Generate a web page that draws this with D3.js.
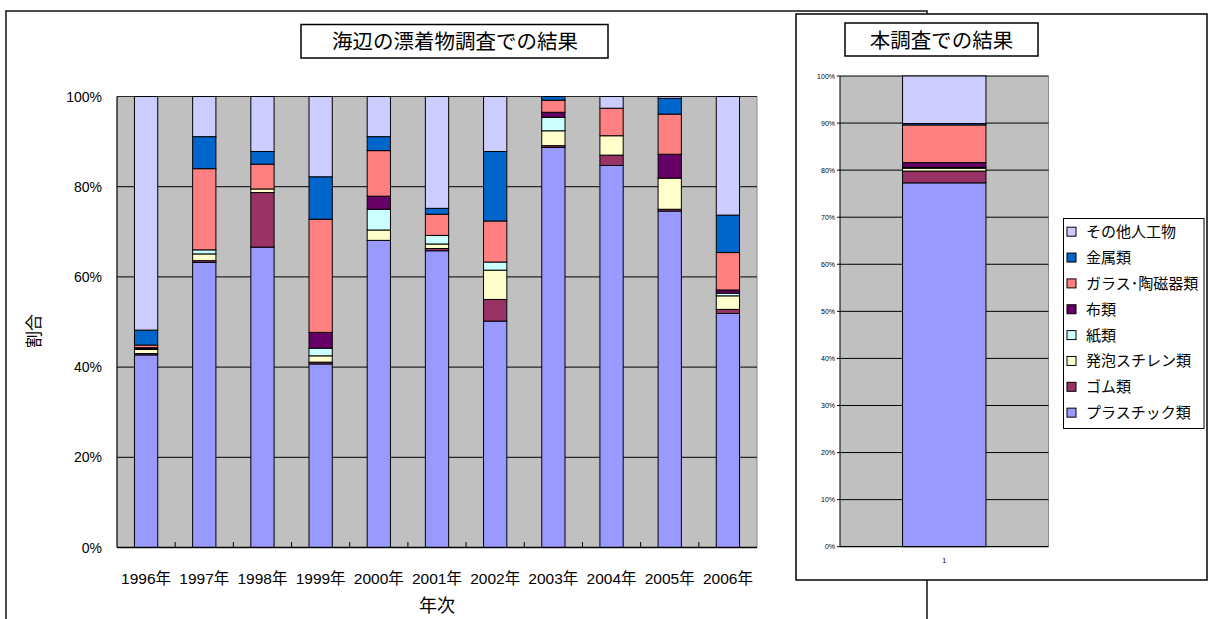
<!DOCTYPE html>
<html>
<head>
<meta charset="utf-8">
<script src="https://cdn.jsdelivr.net/npm/d3@7"></script>
<style>
  html, body { margin: 0; padding: 0; background: #fff; }
  svg { display: block; }
  text { font-family: "Liberation Sans", Arial, "Noto Sans CJK JP", sans-serif; fill: #000; }
</style>
</head>
<body>
<svg id="chart" width="1214" height="619"></svg>
<script>
// Years surveyed on the beach
const years = ["1996年", "1997年", "1998年", "1999年", "2000年", "2001年", "2002年", "2003年", "2004年", "2005年", "2006年"];

// Categories of debris, stacked from the bottom up
const seriesNames = ["プラスチック類", "ゴム類", "発泡スチレン類", "紙類", "布類", "ガラス･陶磁器類", "金属類", "その他人工物"];
const seriesColors = ["#9999FF", "#993366", "#FFFFCC", "#CCFFFF", "#660066", "#FF8080", "#0066CC", "#CCCCFF"];

// Share (%) of each category per year
const plastic = [42.7, 63.2, 66.6, 40.7, 68.1, 65.8, 50.2, 88.7, 84.7, 74.6, 51.9];
const rubber  = [0.3, 0.4, 12.1, 0.4, 0.0, 0.5, 4.8, 0.4, 2.3, 0.4, 0.9];
const styrene = [0.9, 1.5, 0.8, 1.4, 2.3, 1.0, 6.5, 3.3, 4.3, 6.9, 3.0];
const paper   = [0.2, 0.9, 0.0, 1.7, 4.6, 1.9, 1.8, 3.0, 0.0, 0.0, 0.6];
const cloth   = [0.2, 0.0, 0.0, 3.5, 2.9, 0.0, 0.0, 1.1, 0.0, 5.3, 0.7];
const glass   = [0.6, 18.0, 5.5, 25.1, 10.1, 4.7, 9.1, 2.7, 6.1, 8.9, 8.3];
const metal   = [3.3, 7.1, 2.8, 9.4, 3.1, 1.3, 15.4, 0.8, 0.0, 3.5, 8.3];
const other   = [51.8, 8.9, 12.2, 17.8, 8.9, 24.8, 12.2, 0.0, 2.6, 0.4, 26.3];

// This survey (single bar), same category order
const surveyLabel = ["1"];
const surveyValues = [77.3, 2.5, 0.6, 0.2, 1.0, 8.0, 0.3, 10.1];

// Axis tick labels
const leftTicks = [0, 20, 40, 60, 80, 100];
const rightTicks = [0, 10, 20, 30, 40, 50, 60, 70, 80, 90, 100];

const svg = d3.select("#chart");
const seriesArrays = [plastic, rubber, styrene, paper, cloth, glass, metal, other];

// Outer frames
svg.append("rect").attr("x", 6).attr("y", 11).attr("width", 921).attr("height", 660)
  .attr("fill", "#fff").attr("stroke", "#111").attr("stroke-width", 1.5);

// ---------- Left chart ----------
const L = { left: 117, right: 757, top: 96.5, bottom: 547.5 };
const leftRows = years.map((y, i) => {
  const row = { year: y };
  seriesNames.forEach((s, k) => row[s] = seriesArrays[k][i]);
  return row;
});
const xL = d3.scaleBand().domain(years).range([L.left, L.right]).paddingInner(0.6).paddingOuter(0.3);
const yL = d3.scaleLinear().domain([0, 100]).range([L.bottom, L.top]);
const stackL = d3.stack().keys(seriesNames)(leftRows);

const gL = svg.append("g");
gL.append("rect").attr("x", L.left).attr("y", L.top).attr("width", L.right - L.left).attr("height", L.bottom - L.top)
  .attr("fill", "#C0C0C0");
gL.append("line").attr("x1", L.right).attr("x2", L.right).attr("y1", L.top).attr("y2", L.bottom)
  .attr("stroke", "#8a8a8a").attr("stroke-width", 1);
gL.selectAll("line.grid").data(leftTicks.filter(t => t > 0)).join("line")
  .attr("class", "grid").attr("x1", L.left).attr("x2", L.right)
  .attr("y1", d => yL(d)).attr("y2", d => yL(d))
  .attr("stroke", "#262626").attr("stroke-width", 1.2);

stackL.forEach((layer, k) => {
  gL.append("g").selectAll("rect").data(layer.filter(d => d[1] - d[0] > 0)).join("rect")
    .attr("x", d => xL(d.data.year))
    .attr("width", xL.bandwidth())
    .attr("y", d => yL(d[1]))
    .attr("height", d => yL(d[0]) - yL(d[1]))
    .attr("fill", seriesColors[k])
    .attr("stroke", "#000").attr("stroke-width", 1);
});

// Axes
gL.append("line").attr("x1", L.left).attr("x2", L.left).attr("y1", L.top).attr("y2", L.bottom)
  .attr("stroke", "#000").attr("stroke-width", 1.2);
gL.append("line").attr("x1", L.left).attr("x2", L.right).attr("y1", L.bottom).attr("y2", L.bottom)
  .attr("stroke", "#000").attr("stroke-width", 1.5);
const stepL = xL.step();
gL.selectAll("line.xtick").data(d3.range(1, years.length)).join("line")
  .attr("class", "xtick")
  .attr("x1", i => L.left + i * stepL).attr("x2", i => L.left + i * stepL)
  .attr("y1", L.bottom).attr("y2", L.bottom - 5.5)
  .attr("stroke", "#000").attr("stroke-width", 1);
gL.selectAll("text.ytick").data(leftTicks).join("text")
  .attr("class", "ytick")
  .attr("x", 102).attr("y", d => yL(d)).attr("dy", "0.36em")
  .attr("text-anchor", "end").style("font-size", "14px")
  .text(d => d + "%");
gL.selectAll("text.xlab").data(years).join("text")
  .attr("class", "xlab")
  .attr("x", d => xL(d) + xL.bandwidth() / 2).attr("y", 584)
  .attr("text-anchor", "middle").style("font-size", "15.5px")
  .text(d => d);
gL.append("text").attr("x", 437).attr("y", 612).attr("text-anchor", "middle")
  .style("font-size", "18px").text("年次");
gL.append("text").attr("transform", "translate(40,331) rotate(-90)").attr("text-anchor", "middle")
  .style("font-size", "17px").text("割合");

// Title
gL.append("rect").attr("x", 301).attr("y", 24.5).attr("width", 307).attr("height", 33.5)
  .attr("fill", "#fff").attr("stroke", "#000").attr("stroke-width", 1.5);
gL.append("text").attr("x", 455).attr("y", 49).attr("text-anchor", "middle")
  .style("font-size", "20.5px").text("海辺の漂着物調査での結果");

// ---------- Right chart ----------
svg.append("rect").attr("x", 796).attr("y", 14).attr("width", 411).attr("height", 566)
  .attr("fill", "#fff").attr("stroke", "#111").attr("stroke-width", 1.6);

const R = { left: 840, right: 1048.5, top: 76, bottom: 546.7 };
const rightRow = { label: surveyLabel[0] };
seriesNames.forEach((s, k) => rightRow[s] = surveyValues[k]);
const xR = d3.scaleBand().domain(surveyLabel).range([R.left, R.right]).paddingInner(0.6).paddingOuter(0.3);
const yR = d3.scaleLinear().domain([0, 100]).range([R.bottom, R.top]);
const stackR = d3.stack().keys(seriesNames)([rightRow]);

const gR = svg.append("g");
gR.append("rect").attr("x", R.left).attr("y", R.top).attr("width", R.right - R.left).attr("height", R.bottom - R.top)
  .attr("fill", "#C0C0C0");
gR.append("line").attr("x1", R.right).attr("x2", R.right).attr("y1", R.top).attr("y2", R.bottom)
  .attr("stroke", "#8a8a8a").attr("stroke-width", 1);
gR.selectAll("line.grid").data(rightTicks.filter(t => t > 0)).join("line")
  .attr("class", "grid").attr("x1", R.left).attr("x2", R.right)
  .attr("y1", d => yR(d)).attr("y2", d => yR(d))
  .attr("stroke", "#000").attr("stroke-width", 1);
stackR.forEach((layer, k) => {
  gR.append("g").selectAll("rect").data(layer.filter(d => d[1] - d[0] > 0)).join("rect")
    .attr("x", d => xR(d.data.label))
    .attr("width", xR.bandwidth())
    .attr("y", d => yR(d[1]))
    .attr("height", d => yR(d[0]) - yR(d[1]))
    .attr("fill", seriesColors[k])
    .attr("stroke", "#000").attr("stroke-width", 1);
});
gR.append("line").attr("x1", R.left).attr("x2", R.left).attr("y1", R.top).attr("y2", R.bottom)
  .attr("stroke", "#000").attr("stroke-width", 1);
gR.append("line").attr("x1", R.left).attr("x2", R.right).attr("y1", R.bottom).attr("y2", R.bottom)
  .attr("stroke", "#000").attr("stroke-width", 1.2);
gR.selectAll("line.ytick").data(rightTicks).join("line")
  .attr("class", "ytick").attr("x1", R.left - 3).attr("x2", R.left)
  .attr("y1", d => yR(d)).attr("y2", d => yR(d))
  .attr("stroke", "#000").attr("stroke-width", 1);
gR.selectAll("text.ytick").data(rightTicks).join("text")
  .attr("class", "ytick")
  .attr("x", 835).attr("y", d => yR(d)).attr("dy", "0.36em")
  .attr("text-anchor", "end").style("font-size", "7px")
  .text(d => d + "%");
gR.append("text").attr("x", xR(surveyLabel[0]) + xR.bandwidth() / 2).attr("y", 563)
  .attr("text-anchor", "middle").style("font-size", "7px").text(surveyLabel[0]);

// Title
gR.append("rect").attr("x", 845).attr("y", 23).attr("width", 193).attr("height", 33)
  .attr("fill", "#fff").attr("stroke", "#000").attr("stroke-width", 1.5);
gR.append("text").attr("x", 941.5).attr("y", 47.5).attr("text-anchor", "middle")
  .style("font-size", "20.5px").text("本調査での結果");

// Legend (top item is the top of the stack)
const legend = gR.append("g");
legend.append("rect").attr("x", 1063.5).attr("y", 218.5).attr("width", 140.5).attr("height", 210)
  .attr("fill", "#fff").attr("stroke", "#000").attr("stroke-width", 1);
const legendItems = seriesNames.map((s, k) => ({ name: s, color: seriesColors[k] })).reverse();
const li = legend.selectAll("g.item").data(legendItems).join("g")
  .attr("class", "item")
  .attr("transform", (d, i) => `translate(0,${231.7 + i * 25.85})`);
li.append("rect").attr("x", 1067).attr("y", -4.5).attr("width", 9).attr("height", 9)
  .attr("fill", d => d.color).attr("stroke", "#000").attr("stroke-width", 1);
li.append("text").attr("x", 1086).attr("y", 0).attr("dy", "0.36em")
  .style("font-size", "15px").text(d => d.name);
</script>
</body>
</html>
